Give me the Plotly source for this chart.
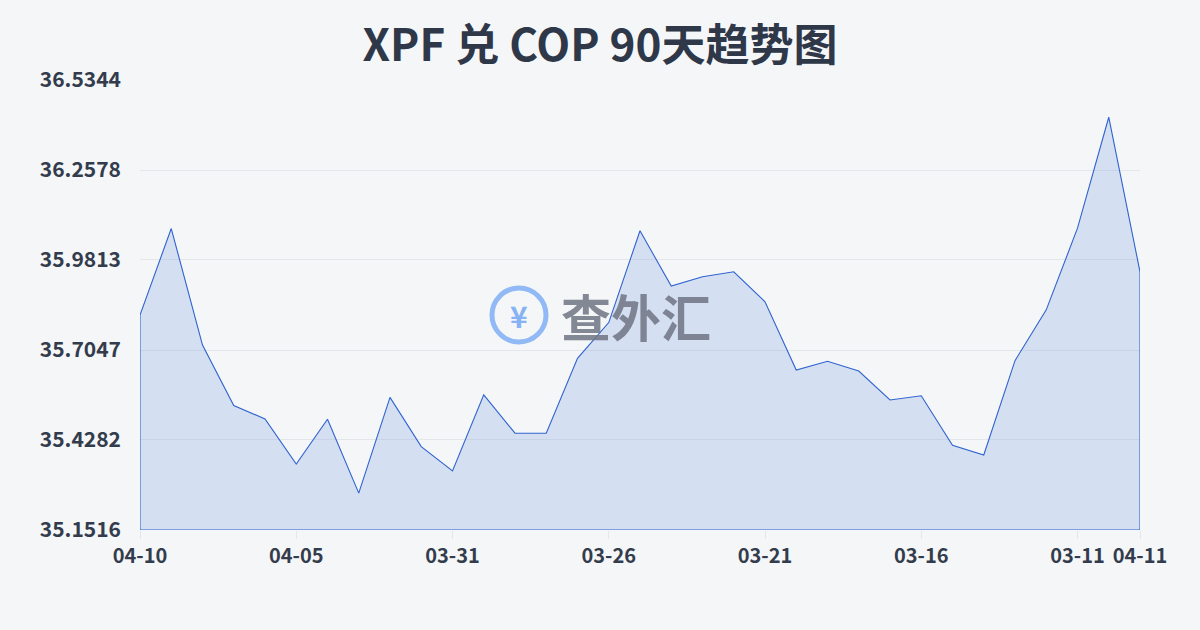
import plotly.graph_objects as go

dates = ["04-10", "04-09", "04-08", "04-07", "04-06", "04-05", "04-04", "04-03",
         "04-02", "04-01", "03-31", "03-30", "03-29", "03-28", "03-27", "03-26",
         "03-25", "03-24", "03-23", "03-22", "03-21", "03-20", "03-19", "03-18",
         "03-17", "03-16", "03-15", "03-14", "03-13", "03-12", "03-11", "03-10",
         "04-11"]
rates = [35.812, 36.078, 35.720, 35.534, 35.493, 35.354, 35.492, 35.265,
         35.559, 35.408, 35.333, 35.567, 35.449, 35.449, 35.679, 35.789,
         36.071, 35.901, 35.930, 35.945, 35.853, 35.643, 35.670, 35.640,
         35.551, 35.564, 35.412, 35.382, 35.672, 35.828, 36.079, 36.420,
         35.945]
y_ticks = [35.1516, 35.4282, 35.7047, 35.9813, 36.2578, 36.5344]
y_tick_labels = ["35.1516", "35.4282", "35.7047", "35.9813", "36.2578", "36.5344"]
x_tick_labels = ["04-10", "04-05", "03-31", "03-26", "03-21", "03-16", "03-11", "04-11"]

idx = list(range(len(dates)))
x_tick_pos = [0, 5, 10, 15, 20, 25, 30, 32]

base = y_ticks[0]
poly_x = idx + [idx[-1], idx[0], idx[0]]
poly_y = rates + [base, base, rates[0]]

font_family = "Noto Sans CJK SC, Noto Sans, sans-serif"

fig = go.Figure()
fig.add_trace(go.Scatter(
    x=poly_x, y=poly_y, mode="lines", fill="toself",
    fillcolor="rgba(120,155,225,0.25)",
    line=dict(color="#2f63cf", width=1.1),
    hoverinfo="skip", showlegend=False,
))

fig.update_layout(
    width=1200, height=630,
    margin=dict(l=140, r=60, t=80, b=100),
    paper_bgcolor="#f5f6f8",
    plot_bgcolor="rgba(0,0,0,0)",
    title=dict(text="<b>XPF 兑 COP 90天趋势图</b>", x=0.5, xanchor="center",
               y=1 - 46 / 630, yanchor="middle",
               font=dict(family=font_family, size=44, color="#2e3849")),
    xaxis=dict(range=[0, 32], tickmode="array", tickvals=x_tick_pos,
               ticktext=[f"<b>{t}</b>" for t in x_tick_labels],
               showgrid=False, zeroline=False, showline=False,
               ticks="outside", ticklen=8, tickcolor="#e3e6ea",
               tickfont=dict(family=font_family, size=20, color="#333c4c")),
    yaxis=dict(range=[y_ticks[0], y_ticks[-1]], tickmode="array", tickvals=y_ticks,
               ticktext=[f"<b>{t}</b>" for t in y_tick_labels],
               showgrid=True, gridcolor="#e3e6ea", gridwidth=1,
               zeroline=False, showline=False, ticks="", ticklabelstandoff=18,
               tickfont=dict(family=font_family, size=21, color="#333c4c")),
)

# watermark
fig.add_shape(type="circle", xref="paper", yref="paper",
              x0=(492 - 140) / 1000, x1=(546 - 140) / 1000,
              y0=(530 - 342) / 450, y1=(530 - 288) / 450,
              line=dict(color="rgba(120,170,245,0.8)", width=5))
fig.add_annotation(x=(519 - 140) / 1000, y=(530 - 315) / 450, xref="paper", yref="paper",
                   text="<b>¥</b>", showarrow=False,
                   font=dict(family=font_family, size=30, color="rgba(120,170,245,0.9)"))
fig.add_annotation(x=(636 - 140) / 1000, y=(530 - 315) / 450, xref="paper", yref="paper",
                   text="<b>查外汇</b>", showarrow=False,
                   font=dict(family=font_family, size=50, color="rgba(110,116,132,0.85)"))

fig.write_html("out.html", config={"displayModeBar": False},
               post_script="document.body.style.margin='0';")
